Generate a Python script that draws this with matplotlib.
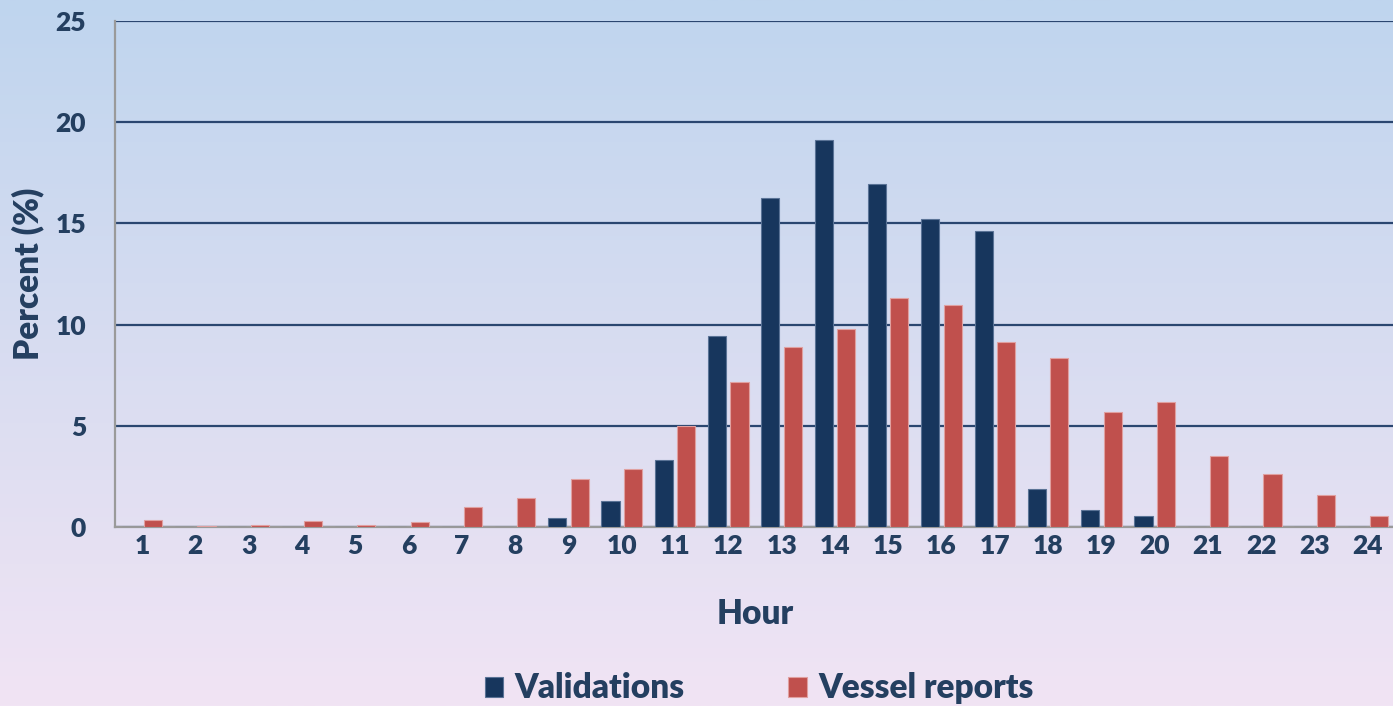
import numpy as np
import matplotlib
matplotlib.use("Agg")
import matplotlib.pyplot as plt

# data
hours = list(range(1, 25))
validations = [0, 0, 0, 0, 0, 0, 0, 0, 0.43, 1.28, 3.31, 9.42, 16.24, 19.14,
               16.97, 15.23, 14.64, 1.86, 0.84, 0.56, 0, 0, 0, 0]
vessel_reports = [0.35, 0.05, 0.12, 0.30, 0.12, 0.25, 1.00, 1.45, 2.39, 2.87, 4.99,
                  7.18, 8.88, 9.77, 11.34, 10.98, 9.16, 8.35, 5.70, 6.16, 3.49,
                  2.63, 1.58, 0.56]
y_ticks = [0, 5, 10, 15, 20, 25]

navy = '#17365D'
red = '#C0504D'
text_col = '#243F60'

plt.rcParams['font.family'] = ['Lato', 'DejaVu Sans']
plt.rcParams['font.weight'] = 'heavy'

fig = plt.figure(figsize=(13.93, 7.06), dpi=100)

# background gradient (light blue at top -> lavender/pink at bottom)
bg = fig.add_axes([0, 0, 1, 1], zorder=-10)
top = np.array([0xBF, 0xD5, 0xEE]) / 255
bot = np.array([0xF1, 0xE4, 0xF4]) / 255
t = np.linspace(0, 1, 256)[:, None]
grad = top[None, :] * (1 - t) + bot[None, :] * t
bg.imshow(grad[:, None, :], aspect='auto', extent=[0, 1, 0, 1])
bg.set_axis_off()

ax = fig.add_axes([0.0828, 0.2535, 0.9183, 0.7167])
ax.set_facecolor('none')

x = np.array(hours)
w = 0.34
ax.bar(x - 0.21, validations, width=w, color=navy, edgecolor='#5A7396',
       linewidth=0.8, label='Validations', zorder=3)
ax.bar(x + 0.21, vessel_reports, width=w, color=red, edgecolor='#E0A0A0',
       linewidth=0.8, label='Vessel reports', zorder=3)

ax.set_xlim(0.5, 24.5)
ax.set_ylim(0, 25)
ax.set_yticks(y_ticks)
ax.set_xticks(hours)
ax.set_axisbelow(True)
ax.yaxis.grid(True, color='#2A4670', linewidth=1.6)

for s in ['top', 'right']:
    ax.spines[s].set_visible(False)
for s in ['left', 'bottom']:
    ax.spines[s].set_color('#9A9A9A')
    ax.spines[s].set_linewidth(1.6)

ax.tick_params(axis='y', length=0, pad=21, labelsize=19, labelcolor=text_col)
ax.tick_params(axis='x', length=0, pad=5, labelsize=19, labelcolor=text_col)

ax.set_xlabel('Hour', fontsize=24, color=text_col, fontweight='heavy', labelpad=29)
ax.set_ylabel('Percent (%)', fontsize=24, color=text_col, fontweight='heavy', labelpad=8)

handles, labels = ax.get_legend_handles_labels()
leg = fig.legend(handles, labels, loc='center', bbox_to_anchor=(0.545, 0.025),
                 ncol=2, frameon=False, fontsize=24, handlelength=0.55,
                 handleheight=0.55, handletextpad=0.35, columnspacing=3.1)
for txt in leg.get_texts():
    txt.set_color(text_col)

fig.savefig('out.png', dpi=100)
